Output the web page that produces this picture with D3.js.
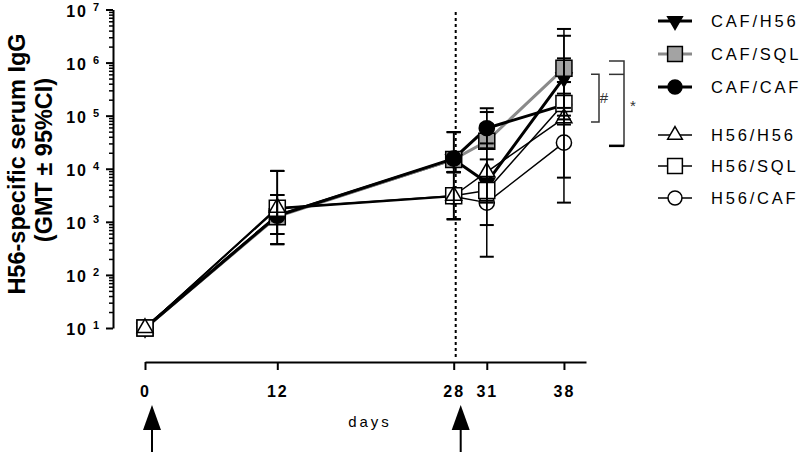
<!DOCTYPE html>
<html>
<head>
<meta charset="utf-8">
<script src="https://d3js.org/d3.v7.min.js"></script>
<style>
  body { margin: 0; background: #fff; }
  svg { font-family: "Liberation Sans", Arial, sans-serif; }
</style>
</head>
<body>
<svg id="chart" width="807" height="452"></svg>
<script>
// Sampling days and vaccination days
var days = [0, 12, 28, 31, 38];
var boostDays = [0, 28];

// Group names (legend order)
var groups = ["CAF/H56", "CAF/SQL", "CAF/CAF", "H56/H56", "H56/SQL", "H56/CAF"];

// GMT and 95% CI per group, one value per sampling day
var gmtCafH56 = [10, 1300, 15000, 5500, 520000];
var loCafH56  = [10, 590, 8700, 2300, 85000];
var hiCafH56  = [10, 3200, 49000, 15000, 3200000];

var gmtCafSql = [10, 1250, 15000, 33000, 780000];
var loCafSql  = [10, 590, 8700, 24000, 140000];
var hiCafSql  = [10, 3200, 49000, 117000, 4300000];

var gmtCafCaf = [10, 1300, 15500, 58000, 160000];
var loCafCaf  = [10, 590, 8700, 24000, 100000];
var hiCafCaf  = [10, 3200, 49000, 138000, 260000];

var gmtH56H56 = [10, 1850, 3100, 8700, 90000];
var loH56H56  = [10, 380, 1120, 2500, 6800];
var hiH56H56  = [10, 9100, 8600, 30000, 1200000];

var gmtH56Sql = [10, 1800, 3100, 3900, 170000];
var loH56Sql  = [10, 380, 1120, 220, 68000];
var hiH56Sql  = [10, 9100, 8600, 70000, 430000];

var gmtH56Caf = [10, 1750, 3000, 2300, 31000];
var loH56Caf  = [10, 380, 1120, 870, 2300];
var hiH56Caf  = [10, 9100, 8600, 6100, 430000];

// Significance brackets (value ranges at day 38)
var hashBracket = [600000, 76000];
var starBracket = [1070000, 600000, 27000];

// y tick exponents
var yExponents = [1, 2, 3, 4, 5, 6, 7];

var svg = d3.select("#chart");

var xScale = d3.scaleLinear().domain([0, 40]).range([145, 586]);
var yScale = d3.scaleLog().domain([10, 1e7]).range([328, 9.5]);

// Series styles
var styles = {
  "CAF/H56": {stroke: "#000", width: 3, symbol: d3.symbolTriangle, size: 110, rotate: 180, fill: "#000"},
  "CAF/SQL": {stroke: "#8a8a8a", width: 3, symbol: d3.symbolSquare, size: 256, rotate: 0, fill: "#a3a3a3"},
  "CAF/CAF": {stroke: "#000", width: 3, symbol: d3.symbolCircle, size: 180, rotate: 0, fill: "#000"},
  "H56/H56": {stroke: "#000", width: 1.5, symbol: d3.symbolTriangle, size: 110, rotate: 0, fill: "#fff"},
  "H56/SQL": {stroke: "#000", width: 1.5, symbol: d3.symbolSquare, size: 256, rotate: 0, fill: "#fff"},
  "H56/CAF": {stroke: "#000", width: 1.5, symbol: d3.symbolCircle, size: 180, rotate: 0, fill: "#fff"}
};

function buildSeries(name, gmt, lo, hi) {
  return {
    name: name,
    points: days.map(function(d, i) { return {day: d, gmt: gmt[i], lo: lo[i], hi: hi[i]}; })
  };
}

// drawing order: CAF groups below, white markers on top
var series = [
  buildSeries("CAF/H56", gmtCafH56, loCafH56, hiCafH56),
  buildSeries("CAF/SQL", gmtCafSql, loCafSql, hiCafSql),
  buildSeries("CAF/CAF", gmtCafCaf, loCafCaf, hiCafCaf),
  buildSeries("H56/CAF", gmtH56Caf, loH56Caf, hiH56Caf),
  buildSeries("H56/SQL", gmtH56Sql, loH56Sql, hiH56Sql),
  buildSeries("H56/H56", gmtH56H56, loH56H56, hiH56H56)
];

// Dotted line at the boost
svg.append("line")
   .attr("x1", xScale(28) + 2).attr("x2", xScale(28) + 2)
   .attr("y1", 12).attr("y2", 357)
   .attr("stroke", "#000")
   .attr("stroke-width", 2)
   .attr("stroke-dasharray", "3,3");

// y axis: minor ticks
var minorTicks = [];
yExponents.slice(0, -1).forEach(function(e) {
  for (var k = 2; k <= 9; k++) minorTicks.push(k * Math.pow(10, e));
});
svg.append("g")
   .attr("transform", "translate(113,0)")
   .call(d3.axisLeft(yScale).tickValues(minorTicks).tickSize(4).tickSizeOuter(0).tickFormat(""))
   .call(function(g) { g.select(".domain").remove(); })
   .selectAll("line").attr("stroke-width", 1.5);

// y axis: major ticks and line
var yAxis = svg.append("g")
   .attr("transform", "translate(113,0)")
   .call(d3.axisLeft(yScale)
           .tickValues(yExponents.map(function(e) { return Math.pow(10, e); }))
           .tickSize(7).tickSizeOuter(0).tickFormat(""));
yAxis.select(".domain").attr("stroke-width", 2);
yAxis.selectAll("line").attr("stroke-width", 2);

// y tick labels as 10 with superscript exponent
var yLabels = svg.append("g").attr("font-weight", "bold");
yExponents.forEach(function(e) {
  var yy = yScale(Math.pow(10, e));
  yLabels.append("text")
    .attr("x", 88).attr("y", yy + 7)
    .attr("text-anchor", "end")
    .attr("font-size", "16px")
    .attr("letter-spacing", "2px")
    .text("10");
  yLabels.append("text")
    .attr("x", 93).attr("y", yy + 1)
    .attr("font-size", "11px")
    .text(e);
});

// y axis title
svg.append("text")
   .attr("transform", "translate(25,164) rotate(-90)")
   .attr("text-anchor", "middle")
   .attr("font-size", "23.5px")
   .attr("font-weight", "bold")
   .text("H56-specific serum IgG");
svg.append("text")
   .attr("transform", "translate(52,160) rotate(-90)")
   .attr("text-anchor", "middle")
   .attr("font-size", "23.5px")
   .attr("font-weight", "bold")
   .text("(GMT \u00b1 95%CI)");

// x axis
var xAxis = svg.append("g")
   .attr("transform", "translate(0,362)")
   .call(d3.axisBottom(xScale).tickValues(days).tickSize(8).tickSizeOuter(0).tickPadding(16)
           .tickFormat(d3.format("d")));
xAxis.select(".domain").attr("stroke-width", 2);
xAxis.selectAll("line").attr("stroke-width", 2);
xAxis.selectAll("text")
     .attr("font-size", "16px")
     .attr("font-weight", "bold")
     .attr("letter-spacing", "2px")
     .attr("fill", "#000")
     .attr("font-family", "Liberation Sans, Arial, sans-serif");

svg.append("text")
   .attr("x", 370).attr("y", 427)
   .attr("text-anchor", "middle")
   .attr("font-size", "15px")
   .attr("letter-spacing", "3px")
   .text("days");

// Vaccination arrows
boostDays.forEach(function(d) {
  var ax = xScale(d) + 7;
  svg.append("path")
     .attr("d", "M" + ax + ",405 L" + (ax + 9) + ",430 L" + (ax - 9) + ",430 Z")
     .attr("fill", "#000");
  svg.append("line")
     .attr("x1", ax).attr("x2", ax)
     .attr("y1", 428).attr("y2", 452)
     .attr("stroke", "#000").attr("stroke-width", 2);
});

// Lines
var line = d3.line()
  .x(function(d) { return xScale(d.day); })
  .y(function(d) { return yScale(d.gmt); });

svg.append("g").selectAll("path")
   .data(series)
   .enter().append("path")
   .attr("d", function(s) { return line(s.points); })
   .attr("fill", "none")
   .attr("stroke", function(s) { return styles[s.name].stroke; })
   .attr("stroke-width", function(s) { return styles[s.name].width; })
   .attr("stroke-linejoin", "round");

// Markers
function symbolPath(name, scale) {
  var st = styles[name];
  return d3.symbol().type(st.symbol).size(st.size * (scale || 1))();
}

series.forEach(function(s) {
  var st = styles[s.name];
  svg.append("g").selectAll("path")
     .data(s.points)
     .enter().append("path")
     .attr("d", symbolPath(s.name))
     .attr("transform", function(d) {
       return "translate(" + xScale(d.day) + "," + yScale(d.gmt) + ") rotate(" + st.rotate + ")";
     })
     .attr("fill", st.fill)
     .attr("stroke", "#000")
     .attr("stroke-width", 1.5);
});

// Error bars on top
var capHalf = 7;
series.forEach(function(s) {
  var pts = s.points.filter(function(d) { return d.hi > d.lo; });
  var g = svg.append("g").attr("stroke", "#000").attr("stroke-width", 2);
  g.selectAll(".stem").data(pts).enter().append("line")
   .attr("x1", function(d) { return xScale(d.day); })
   .attr("x2", function(d) { return xScale(d.day); })
   .attr("y1", function(d) { return yScale(d.lo); })
   .attr("y2", function(d) { return yScale(d.hi); })
   .attr("stroke-width", 1.5);
  ["lo", "hi"].forEach(function(k) {
    g.selectAll(".cap-" + k).data(pts).enter().append("line")
     .attr("x1", function(d) { return xScale(d.day) - capHalf; })
     .attr("x2", function(d) { return xScale(d.day) + capHalf; })
     .attr("y1", function(d) { return yScale(d[k]); })
     .attr("y2", function(d) { return yScale(d[k]); });
  });
});

// Significance brackets
var br = svg.append("g").attr("stroke", "#333").attr("fill", "none").attr("stroke-width", 1.5);
br.append("path")
  .attr("d", "M591," + yScale(hashBracket[0]) + " H599 V" + yScale(hashBracket[1]) + " H591");
br.append("path")
  .attr("d", "M609," + yScale(starBracket[0]) + " H624 V" + yScale(starBracket[2]) + " H609");
br.append("line")
  .attr("x1", 609).attr("x2", 624)
  .attr("y1", yScale(starBracket[1])).attr("y2", yScale(starBracket[1]));
br.append("line")
  .attr("x1", 609).attr("x2", 624)
  .attr("y1", yScale(starBracket[2])).attr("y2", yScale(starBracket[2]))
  .attr("stroke", "#000").attr("stroke-width", 2.5);

svg.append("text")
   .attr("x", 604).attr("y", (yScale(hashBracket[0]) + yScale(hashBracket[1])) / 2 + 5)
   .attr("text-anchor", "middle")
   .attr("font-size", "15px")
   .attr("fill", "#333")
   .text("#");
svg.append("text")
   .attr("x", 633).attr("y", (yScale(starBracket[0]) + yScale(starBracket[2])) / 2 + 8)
   .attr("text-anchor", "middle")
   .attr("font-size", "15px")
   .attr("fill", "#333")
   .text("*");

// Legend
var legendRows = [21, 54, 87, 135, 166, 198];
var legend = svg.append("g");
groups.forEach(function(name, i) {
  var st = styles[name];
  var ly = legendRows[i];
  legend.append("line")
    .attr("x1", 658).attr("x2", 692)
    .attr("y1", ly).attr("y2", ly)
    .attr("stroke", st.stroke)
    .attr("stroke-width", st.width);
  legend.append("path")
    .attr("d", symbolPath(name, 0.85))
    .attr("transform", "translate(675," + ly + ") rotate(" + st.rotate + ")")
    .attr("fill", st.fill)
    .attr("stroke", "#000")
    .attr("stroke-width", 1.5);
  legend.append("text")
    .attr("x", 711).attr("y", ly + 6)
    .attr("font-size", "16.5px")
    .attr("letter-spacing", "2.8px")
    .text(name);
});
</script>
</body>
</html>
